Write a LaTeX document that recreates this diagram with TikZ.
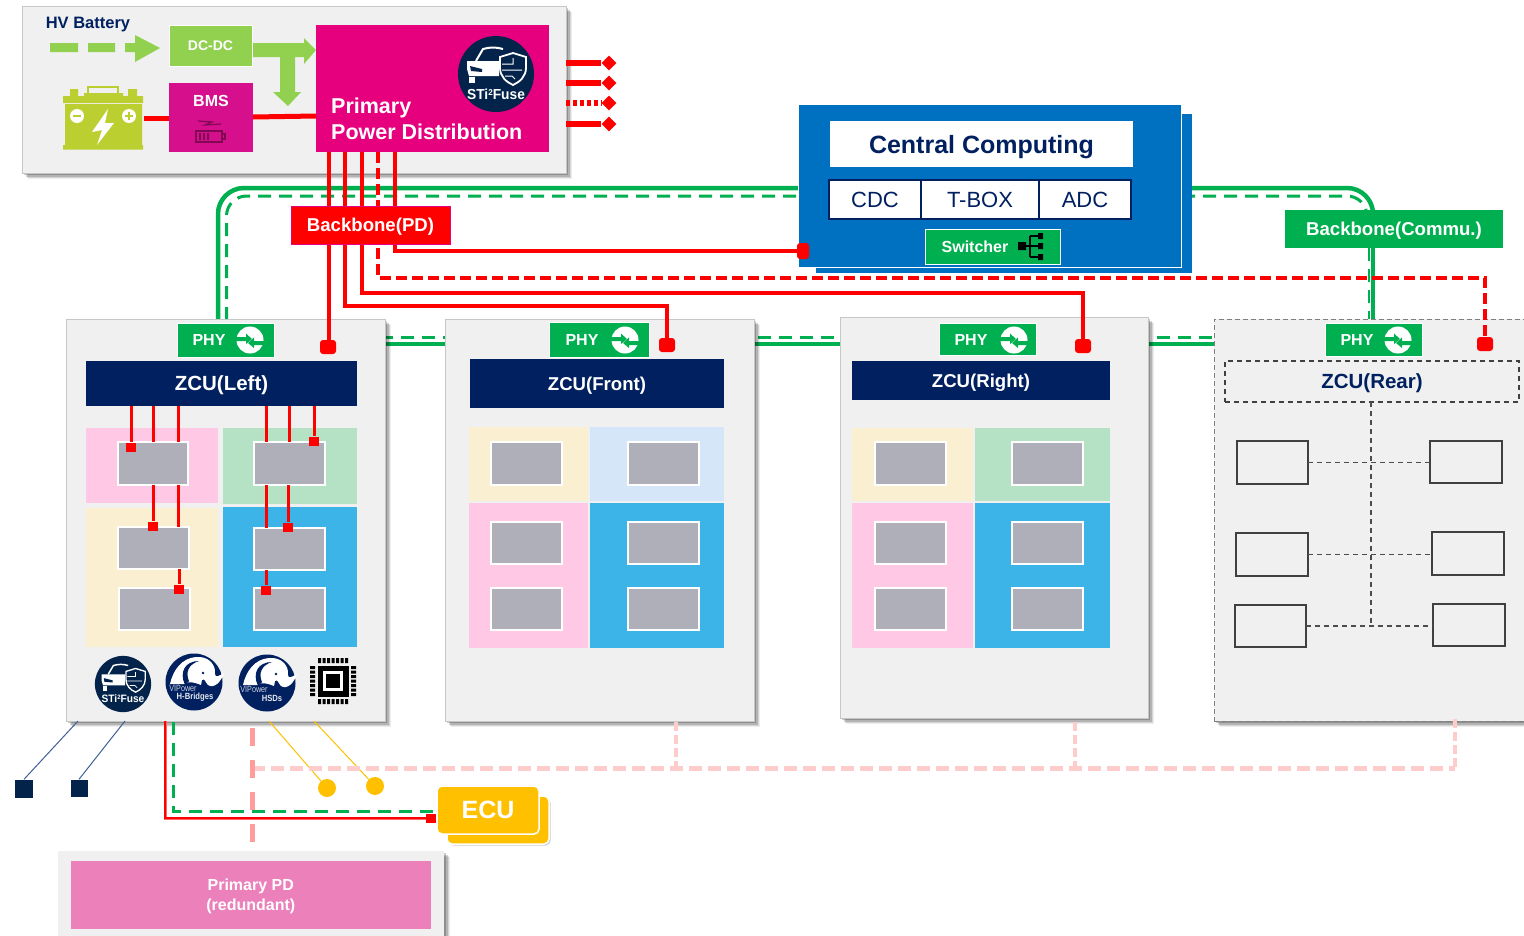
\documentclass[tikz,border=0pt]{standalone}
\usepackage{fontspec}
\setmainfont{Liberation Sans}
\usetikzlibrary{calc,shadows,shapes.geometric}
\definecolor{panelgray}{HTML}{F0F0F0}
\definecolor{navyband}{HTML}{002060}
\definecolor{badgenavy}{HTML}{03234B}
\definecolor{commgreen}{HTML}{00B050}
\definecolor{lightgreen}{HTML}{92D050}
\definecolor{pdmagenta}{HTML}{E6007E}
\definecolor{bmsmagenta}{HTML}{D60F8C}
\definecolor{batgreen}{HTML}{BBD030}
\definecolor{cpublue}{HTML}{0070C0}
\definecolor{pinkzone}{HTML}{FFC9E6}
\definecolor{mintzone}{HTML}{B5E2C5}
\definecolor{creamzone}{HTML}{FAEFD0}
\definecolor{skyzone}{HTML}{3CB4E7}
\definecolor{palezone}{HTML}{D6E6F9}
\definecolor{greybox}{HTML}{AFAFB9}
\definecolor{ecuyellow}{HTML}{FFC000}
\definecolor{redundpink}{HTML}{EC80BA}
\definecolor{wirepink}{HTML}{FF9C9C}
\definecolor{wirepale}{HTML}{FFCCCC}
\definecolor{stubblue}{HTML}{3F5F95}
\def\fs#1{\fontsize{#1}{#1}\selectfont}
\def\pxbox[#1](#2)(#3,#4)(#5,#6)#7{\node[#1,inner sep=0,outer sep=0,minimum width={(#5-#3)*1pt},minimum height={(#6-#4)*1pt}] (#2) at ({(#3+#5)/2},{(#4+#6)/2}) {#7};}
\def\phyicon(#1,#2){\begin{scope}[shift={(#1,#2)}]
	\fill[white] (0,0) circle (13.5);
	\fill[commgreen] (-14,-3) -- (-4,-3) -- (-4,-6.5) -- (2,-1) -- (-4,4) -- (-4,1) -- (-14,1) -- cycle;
	\fill[commgreen] (14,1) -- (4,1) -- (4,-2.5) -- (-2,3) -- (4,8) -- (4,5) -- (14,5) -- cycle;
\end{scope}}
\def\fusebadge(#1,#2)(#3)(#4){\node[circle,fill=badgenavy,inner sep=0,minimum size=#3*76pt] (#4) at (#1,#2) {};
	\begin{scope}[shift={(#1,#2)},scale=#3]
	\draw[white,line width=#3*2] (-20,-13) -- (-13,-25) .. controls (-6,-27) and (0,-27) .. (7,-25);
	\fill[white] (-29,-13) -- (3,-13) -- (3,2) -- (-27,2) -- (-29,-5) -- cycle;
	\fill[badgenavy] (-26,-8) -- (-14,-5) -- (-14,-2) -- (-25,-3) -- cycle;
	\fill[white] (-27,3) rectangle (-21,9);
	\draw[white,fill=badgenavy,line width=#3*1.8] (4,-17) -- (17,-21) -- (30,-17) -- (30,-6) .. controls (30,2) and (24,8) .. (17,11) .. controls (10,8) and (4,2) .. (4,-6) -- cycle;
	\draw[white,line width=#3*1] (6,-10) -- (17,-10) -- (17,-16) (6,-4) -- (26,-4) (9,2) -- (16,2) -- (19,5);
	\node[white,font=\bfseries\fs{14.5},inner sep=0,xscale=.95] (#4text) at (0,20) {\scalebox{#3}{STi\raisebox{4pt}{\fs{8.5}2}Fuse}};
	\end{scope}}
\def\elephant(#1,#2)(#3)(#4,#5)#6{\node[circle,fill=navyband,inner sep=0,minimum size=57pt] (#3) at (#1,#2) {};
	\begin{scope}[shift={(#1,#2)}]
	\fill[white] (-24,2) .. controls (-21,-12) and (-12,-24) .. (2,-25) .. controls (14,-26) and (22,-18) .. (21,-8) .. controls (21,-4) and (25,-6) .. (30,-9) .. controls (27,0) and (20,7) .. (14,3) .. controls (11,0) and (11,-4) .. (8,-2) -- (7,3) .. controls (0,0) and (-6,-1) .. (-9,2) -- cycle;
	\fill[navyband] (-9,3) .. controls (-15,-10) and (-9,-21) .. (5,-21) .. controls (-5,-18) and (-9,-10) .. (-5,-1) -- cycle;
	\fill[navyband] (9,-9) circle (1.3);
	\node[font=\fs{9},text=white!80!navyband,inner sep=0,xscale=.8] (#3brand) at (#4,6) {VIPower};
	\node[font=\bfseries\fs{9},text=white!90!navyband,inner sep=0,xscale=.85] (#3kind) at (#5,15) {#6};
	\end{scope}}
\tikzset{
	panel/.style={fill=panelgray,draw=black!22,line width=.6,
		drop shadow={shadow xshift=6pt,shadow yshift=-6pt,fill=black,opacity=.07},
		drop shadow={shadow xshift=5pt,shadow yshift=-5pt,fill=black,opacity=.1},
		drop shadow={shadow xshift=3.5pt,shadow yshift=-3.5pt,fill=black,opacity=.16},
		drop shadow={shadow xshift=2pt,shadow yshift=-2pt,fill=black,opacity=.2}},
	whitetext/.style={text=white,font=\bfseries\fs{#1},inner sep=0,text depth=0pt},
	phybox/.style={fill=commgreen,draw=white,line width=.5,whitetext=16},
	zoneband/.style={fill=navyband,whitetext=18.6},
	greybx/.style={fill=greybox,draw=white,line width=1.6},
	outlinebx/.style={draw=black!75,line width=1.3},
	pdwire/.style={draw=red,line width=4.5},
	pddashed/.style={pdwire,dash pattern=on 11pt off 5pt},
	ctlwire/.style={draw=red,line width=3},
	commwire/.style={draw=commgreen,line width=4.5},
	commdashed/.style={draw=commgreen,line width=3,dash pattern=on 13pt off 8pt},
	insidedash/.style={draw=black!70,line width=1.5,dash pattern=on 5pt off 4pt},
	term/.style={fill=red,rounded corners=3,minimum width=16pt,minimum height=14pt,inner sep=0},
	tinyterm/.style={fill=red,minimum width=10pt,minimum height=9pt,inner sep=0},
	outtip/.style={diamond,fill=red,minimum size=15pt,inner sep=0},
}

\begin{document}
\begin{tikzpicture}[x=1pt,y=-1pt]
	%%%%% FRAME %%%%%
	\useasboundingbox (0,0) rectangle (1524,935);
	\clip (0,0) rectangle (1524,935);

	%%%%% COMMS BACKBONE %%%%%
	\coordinate (ringl) at (218,320);
	\coordinate (ringr) at (1373,212);
	\coordinate (dashl) at (226.5,320);
	\coordinate (dashr) at (1367,212);
	\draw[commwire,rounded corners=26] (ringl) |- (1373,188) -- (ringr);
	\draw[commdashed,rounded corners=20] (dashl) |- (1367,196) -- (dashr);
	\coordinate (rowa) at (380,344);
	\coordinate (rowb) at (1220,344);
	\coordinate (rowc) at (380,337);
	\coordinate (rowd) at (1220,337);
	\draw[commwire] (rowa) -- (rowb);
	\draw[commdashed] (rowc) -- (rowd);
	\coordinate (riser) at (1373,248);
	\coordinate (risel) at (1369,248);
	\coordinate (risea) at (1373,322);
	\coordinate (riseb) at (1369,322);
	\draw[commwire] (riser) -- (risea);
	\draw[commdashed,line width=2] (risel) -- (riseb);

	%%%%% POWER PANEL %%%%%
	\pxbox[panel](powerpanel)(22,6)(566,173){}
	\node[font=\bfseries\fs{16.5},text=navyband,inner sep=0,text depth=0pt] (hvlabel) at (88,23) {HV Battery};
	\fill[lightgreen] (50,43) rectangle (78,52) (88,43) rectangle (115,52);
	\fill[lightgreen] (125,43) -- (135,43) -- (135,35) -- (160,48) -- (135,62) -- (135,52) -- (125,52) -- cycle;
	\pxbox[fill=lightgreen,draw=white,line width=1,whitetext=14](dcdc)(169,25)(252,66){DC-DC}
	\fill[lightgreen] (253,43) -- (304,43) -- (304,38) -- (316,50) -- (304,64) -- (304,57) -- (295,57) -- (295,92) -- (301,92) -- (288,106) -- (273,92) -- (280,92) -- (280,57) -- (253,57) -- cycle;
	\pxbox[fill=bmsmagenta,whitetext=16](bms)(169,83)(253,152){}
	\node[whitetext=16] (bmstext) at (211,101) {BMS};
	\draw[black!40!bmsmagenta,line width=1.2] (196,131) rectangle (222,142) (222,134) rectangle (225,139);
	\fill[black!40!bmsmagenta] (199,133) rectangle (201,140) (203,133) rectangle (205,140) (207,133) rectangle (209,140);
	\draw[black!40!bmsmagenta,line width=1.2] (198,121) -- (212,122) -- (205,125) -- (221,124);
	\pxbox[fill=pdmagenta](primary)(316,25)(549,152){}
	\node[whitetext=21.5,anchor=west] (primarya) at (331,106) {Primary};
	\node[whitetext=21.5,anchor=west] (primaryb) at (331,132) {Power Distribution};
	\fusebadge(496,74)(1)(fusetop)
	% battery
	\fill[batgreen] (63,96) rectangle (143,103) (65,104) rectangle (142,145) (63,145) rectangle (143,149.5);
	\fill[batgreen] (84,93) rectangle (123,97) (70,89) rectangle (78,96) (128,89) rectangle (137,96);
	\draw[batgreen,line width=2] (88,94) -- (88,87) -- (118,87) -- (118,94);
	\fill[white] (77,116) circle (7) (129,116) circle (7);
	\draw[batgreen,line width=1.8] (73,116) -- (81,116) (125,116) -- (133,116) (129,112) -- (129,120);
	\fill[white] (108,109) -- (92,132) -- (102,130) -- (97,145) -- (114,123) -- (105,123) -- cycle;
	\coordinate (batout) at (144,118);
	\coordinate (bmsin) at (169,118);
	\coordinate (bmsout) at (253,117);
	\coordinate (prin) at (316,116);
	\draw[pdwire,line width=5] (batout) -- (bmsin);
	\draw[pdwire,line width=5] (bmsout) -- (prin);
	% outputs
	\foreach \ny/\yy in {a/63,b/83,c/103,d/124}{
		\coordinate (out\ny) at (566,\yy);
		\node[outtip] (tip\ny) at (609,\yy) {};
	}
	\draw[pdwire,line width=5.5] (outa) -- (tipa);
	\draw[pdwire,line width=5.5] (outb) -- (tipb);
	\draw[pdwire,line width=5.5,dash pattern=on 4pt off 3pt] (outc) -- (tipc);
	\draw[pdwire,line width=5.5] (outd) -- (tipd);

	%%%%% ZCU PANELS %%%%%
	\pxbox[panel](zculeft)(66,319)(385,721){}
	\pxbox[panel](zcufront)(445,319)(754,721){}
	\pxbox[panel](zcuright)(840,317)(1148,718){}
	\pxbox[panel,draw=black!50,line width=1,dash pattern=on 5pt off 3pt](zcurear)(1214,319)(1530,721){}

	\pxbox[phybox](phyleft)(177,323)(274,357){}
	\pxbox[phybox](phyfront)(549,322)(649,357){}
	\pxbox[phybox](phyright)(939,323)(1036,355){}
	\pxbox[phybox](phyrear)(1325,323)(1422,356){}
	\foreach \nn/\tx/\ix in {left/209/250,front/582/625,right/971/1014,rear/1357/1398}{
		\node[whitetext=16] (phy\nn text) at (\tx,340) {PHY};
		\phyicon(\ix,340)
	}

	\pxbox[zoneband,whitetext=20.5](bandleft)(86,361)(357,406){ZCU(Left)}
	\pxbox[zoneband](bandfront)(470,359)(724,408){ZCU(Front)}
	\pxbox[zoneband](bandright)(852,361)(1110,400){ZCU(Right)}
	\pxbox[draw=black!75,line width=1.5,dash pattern=on 5pt off 4pt,font=\bfseries\fs{20.5},text=navyband,text depth=0pt](bandrear)(1225,361)(1519,402){ZCU(Rear)}

	% left zones
	\pxbox[fill=pinkzone](zonela)(86,428)(218,503){}
	\pxbox[fill=mintzone](zonelb)(223,428)(357,504){}
	\pxbox[fill=creamzone](zonelc)(86,508)(218,647){}
	\pxbox[fill=skyzone](zoneld)(223,507)(357,647){}
	\pxbox[greybx](boxla)(118,442)(188,485){}
	\pxbox[greybx](boxlb)(254,442)(325,485){}
	\pxbox[greybx](boxlc)(118,527)(189,569){}
	\pxbox[greybx](boxld)(119,588)(190,630){}
	\pxbox[greybx](boxle)(254,528)(325,570){}
	\pxbox[greybx](boxlf)(254,588)(325,630){}
	% front zones
	\pxbox[fill=creamzone](zonefa)(469,427)(588,501){}
	\pxbox[fill=palezone](zonefb)(590,427)(724,501){}
	\pxbox[fill=pinkzone](zonefc)(469,503)(588,648){}
	\pxbox[fill=skyzone](zonefd)(590,503)(724,648){}
	% right zones
	\pxbox[fill=creamzone](zonera)(852,428)(973,501){}
	\pxbox[fill=mintzone](zonerb)(975,428)(1110,501){}
	\pxbox[fill=pinkzone](zonerc)(852,503)(973,648){}
	\pxbox[fill=skyzone](zonerd)(975,503)(1110,648){}
	\foreach \xl/\xr/\nm in {491/562/f,875/946/r}{
		\pxbox[greybx](box\nm a)(\xl,442)(\xr,485){}
		\pxbox[greybx](box\nm c)(\xl,522)(\xr,564){}
		\pxbox[greybx](box\nm e)(\xl,588)(\xr,630){}
	}
	\foreach \xl/\xr/\nm in {628/699/f,1012/1083/r}{
		\pxbox[greybx](box\nm b)(\xl,442)(\xr,485){}
		\pxbox[greybx](box\nm d)(\xl,522)(\xr,564){}
		\pxbox[greybx](box\nm f)(\xl,588)(\xr,630){}
	}
	% rear boxes
	\pxbox[outlinebx](boxza)(1237,441)(1308,484){}
	\pxbox[outlinebx](boxzb)(1430,441)(1502,483){}
	\pxbox[outlinebx](boxzc)(1236,533)(1308,576){}
	\pxbox[outlinebx](boxzd)(1432,532)(1504,575){}
	\pxbox[outlinebx](boxze)(1235,605)(1306,647){}
	\pxbox[outlinebx](boxzf)(1433,604)(1505,646){}
	\coordinate (hubz) at (1371,626);
	\draw[insidedash] (bandrear.south -| hubz) -- (hubz);
	\draw[insidedash] (boxza.east) -- (boxza.east -| boxzb.west);
	\draw[insidedash] (boxzc.east) -- (boxzc.east -| boxzd.west);
	\draw[insidedash] (boxze.east) -- (boxze.east -| boxzf.west);

	% wires inside left ZCU
	\node[tinyterm] (ta) at (131,447) {};
	\node[tinyterm] (tb) at (153,526) {};
	\node[tinyterm] (tc) at (179,589) {};
	\node[tinyterm] (td) at (314,441) {};
	\node[tinyterm] (te) at (288,527) {};
	\node[tinyterm] (tf) at (266,590) {};
	\draw[ctlwire] (bandleft.south -| ta) -- (ta);
	\draw[ctlwire] (bandleft.south -| boxla.north) -- (boxla.north);
	\draw[ctlwire] (178,406) -- (178,442);
	\draw[ctlwire] (266,406) -- (266,442);
	\draw[ctlwire] (bandleft.south -| boxlb.north) -- (boxlb.north);
	\draw[ctlwire] (bandleft.south -| td) -- (td);
	\draw[ctlwire] (boxla.south -| tb) -- (tb);
	\draw[ctlwire] (178,485) -- (178,527);
	\draw[ctlwire] (266,485) -- (266,528);
	\draw[ctlwire] (boxlb.south -| te) -- (te);
	\draw[ctlwire] (boxlc.south -| tc) -- (tc);
	\draw[ctlwire] (boxle.south -| tf) -- (tf);

	% left ZCU badges
	\fusebadge(123,684)(.74)(fuseleft)
	\elephant(194,682)(hbridge)(-11,1){H-Bridges}
	\elephant(267,683)(hsd)(-13,5){HSDs}
	\node[fill=black,minimum size=31pt,inner sep=0] (chip) at (333,681) {};
	\fill[white] (323,671) rectangle (343,691);
	\fill[black] (326,674) rectangle (340,688);
	\foreach \tk in {-13.5,-9,-4.5,0,4.5,9,13.5}{
		\fill[black] (331.5+\tk,658) rectangle (334.5+\tk,663) (331.5+\tk,699) rectangle (334.5+\tk,704);
		\fill[black] (310,679.5+\tk) rectangle (315,682.5+\tk) (351,679.5+\tk) rectangle (356,682.5+\tk);
	}

	%%%%% CENTRAL %%%%%
	\pxbox[fill=cpublue](centralback)(816,114)(1192,273){}
	\pxbox[fill=cpublue,draw=white,line width=.8](central)(798,104)(1181,267){}
	\pxbox[fill=white,font=\bfseries\fs{25},text=navyband,text depth=0pt](cctitle)(830,121)(1133,167){Central Computing}
	\pxbox[fill=white,draw=navyband,line width=2,font=\fs{22},text=navyband](cdc)(829,180)(921,219){CDC}
	\pxbox[fill=white,draw=navyband,line width=2,font=\fs{22},text=navyband](tbox)(921,180)(1039,219){T-BOX}
	\pxbox[fill=white,draw=navyband,line width=2,font=\fs{22},text=navyband](adc)(1039,180)(1131,219){ADC}
	\pxbox[fill=commgreen,draw=white,line width=.7](switcher)(925,229)(1060,264){}
	\node[whitetext=16] (switchtext) at (975,247) {Switcher};
	\draw[black,line width=2] (1018,246) -- (1030,246) (1030,236) -- (1030,257) (1030,236) -- (1040,236) (1030,246) -- (1040,246) (1030,257) -- (1040,257);
	\fill[black] (1018,242) rectangle (1026,250) (1038,233) rectangle (1043,239) (1038,243) rectangle (1043,249) (1038,254) rectangle (1043,260);

	%%%%% POWER BACKBONE %%%%%
	\coordinate (tapa) at (329,152);
	\coordinate (tapb) at (345,152);
	\coordinate (tapc) at (362,152);
	\coordinate (tapd) at (378,152);
	\coordinate (tape) at (395,152);
	\coordinate (bendb) at (667,306);
	\coordinate (bendc) at (1083,293);
	\coordinate (bendd) at (1485,278);
	\node[term] (termleft) at (328,347) {};
	\node[term] (termfront) at (667,345) {};
	\node[term] (termright) at (1083,346) {};
	\node[term] (termrear) at (1485,344) {};
	\node[term,minimum width=12pt,minimum height=16pt] (termcpu) at (803,251) {};
	\draw[pdwire] (tapa) -- (tapa |- termleft);
	\draw[pdwire] (tapb) |- (bendb) -- (termfront);
	\draw[pdwire] (tapc) |- (bendc) -- (termright);
	\draw[pddashed] (tapd) |- (bendd) -- (termrear);
	\draw[pdwire] (tape) |- (termcpu);
	\pxbox[fill=red,draw=pdmagenta,line width=.5,whitetext=18.6](bonepd)(291,206)(450,244){Backbone(PD)}
	\pxbox[fill=commgreen,whitetext=18.6](bonecomm)(1285,210)(1503,248){Backbone(Commu.)}

	%%%%% BELOW PANELS %%%%%
	\node[fill=badgenavy,minimum size=18pt,inner sep=0] (stuba) at (24,788.5) {};
	\node[fill=badgenavy,minimum size=17pt,inner sep=0] (stubb) at (79,788) {};
	\coordinate (stubsa) at (78,721);
	\coordinate (stubsb) at (125,721);
	\draw[stubblue,line width=1] (stubsa) -- (stuba.north);
	\draw[stubblue,line width=1] (stubsb) -- (stubb.north);
	\node[circle,fill=ecuyellow,minimum size=18pt,inner sep=0] (pina) at (327,788) {};
	\node[circle,fill=ecuyellow,minimum size=18pt,inner sep=0] (pinb) at (375,786) {};
	\coordinate (pinsa) at (269,721);
	\coordinate (pinsb) at (314,721);
	\draw[ecuyellow,line width=1] (pinsa) -- (pina);
	\draw[ecuyellow,line width=1] (pinsb) -- (pinb);
	% redundant feed
	\coordinate (feedtop) at (252,728);
	\coordinate (feedbot) at (252,844);
	\coordinate (palea) at (252,768);
	\coordinate (paleb) at (676,722);
	\coordinate (palec) at (1075,722);
	\coordinate (paled) at (1455,719);
	\draw[wirepale,line width=5,dash pattern=on 13pt off 6pt] (palea) -- (1455,768);
	\draw[wirepale,line width=4,dash pattern=on 9pt off 4pt] (paleb) -- (676,768);
	\draw[wirepale,line width=4,dash pattern=on 9pt off 4pt] (palec) -- (1075,768);
	\draw[wirepale,line width=4,dash pattern=on 9pt off 4pt] (paled) -- (1455,768);
	\draw[wirepink,line width=5,dash pattern=on 18pt off 14pt] (feedtop) -- (feedbot);
	% ECU
	\pxbox[fill=ecuyellow,draw=white,line width=1.5,rounded corners=5,drop shadow={shadow xshift=1.5pt,shadow yshift=-1.5pt,fill=black!40}](ecuback)(447,796)(549,844){}
	\pxbox[fill=ecuyellow,draw=white,line width=1.5,rounded corners=5,whitetext=25](ecu)(437,786)(539,834){ECU}
	\node[tinyterm] (termecu) at (431,818) {};
	\coordinate (ecugreen) at (435,811);
	\coordinate (leftgreen) at (173,722);
	\coordinate (leftred) at (165,721);
	\draw[commgreen,line width=3,dash pattern=on 13pt off 8pt] (leftgreen) |- (ecugreen);
	\draw[red!60,line width=3] (leftred) |- (termecu);
	\draw[red,line width=1.6] (leftred) |- (termecu);
	% primary PD
	\pxbox[panel,draw=none](pdpanel)(58,851)(444,945){}
	\pxbox[fill=redundpink,align=center,whitetext=16](pdred)(70.5,861)(431,929){Primary PD\\[4pt](redundant)}
\end{tikzpicture}
\end{document}
